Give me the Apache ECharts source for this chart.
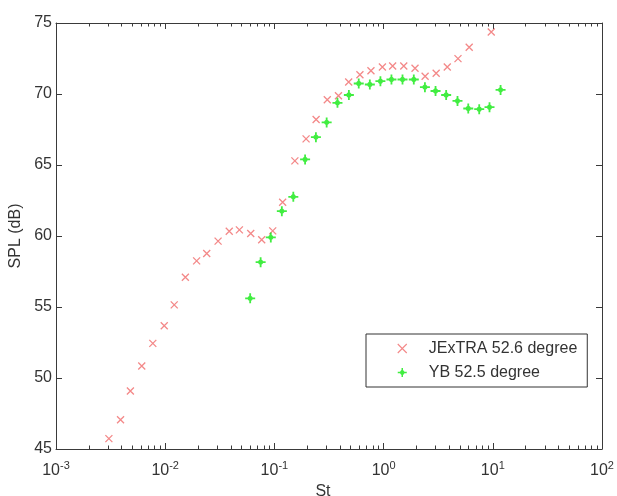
<!DOCTYPE html>
<html>
<head>
<meta charset="utf-8">
<script src="https://cdn.jsdelivr.net/npm/echarts@6/dist/echarts.min.js"></script>
<style>
  html, body { margin: 0; padding: 0; background: #fff; }
  #chart { width: 617px; height: 496px; }
</style>
</head>
<body>
<div id="chart"></div>
<script>
// JExTRA 52.6 degree
const redSt = [0.00305, 0.0039, 0.0048, 0.0061, 0.0077, 0.0098, 0.0121, 0.0153, 0.0194, 0.024,
  0.0305, 0.0386, 0.0478, 0.0607, 0.0765, 0.0965, 0.119, 0.154, 0.195, 0.241,
  0.305, 0.386, 0.479, 0.607, 0.766, 0.975, 1.21, 1.53, 1.94, 2.40,
  3.03, 3.83, 4.80, 6.08, 9.68];
const redSPL = [45.73, 47.06, 49.08, 50.84, 52.44, 53.68, 55.15, 57.10, 58.25, 58.77,
  59.64, 60.34, 60.43, 60.18, 59.73, 60.36, 62.38, 65.29, 66.84, 68.20,
  69.59, 69.88, 70.84, 71.35, 71.64, 71.90, 71.97, 71.97, 71.81, 71.25,
  71.46, 71.90, 72.49, 73.29, 74.37];

// YB 52.5 degree
const greenSt = [0.060, 0.0748, 0.0927, 0.117, 0.149, 0.191, 0.240, 0.301, 0.378, 0.481,
  0.592, 0.748, 0.935, 1.18, 1.49, 1.89, 2.39, 2.99, 3.74, 4.75,
  5.96, 7.51, 9.33, 11.78];
const greenSPL = [55.61, 58.16, 59.90, 61.75, 62.76, 65.39, 66.96, 68.00, 69.38, 69.93,
  70.74, 70.67, 70.90, 71.02, 71.02, 71.02, 70.48, 70.21, 69.93, 69.51,
  68.98, 68.93, 69.07, 70.29];

const seriesNames = ['JExTRA 52.6 degree', 'YB 52.5 degree'];

// axis ticks
const xDecades = [0.001, 0.01, 0.1, 1, 10, 100];
const xMinor = [];
for (let d = 0; d < xDecades.length - 1; d++) {
  for (let k = 2; k <= 9; k++) xMinor.push(+(xDecades[d] * k).toPrecision(3));
}

const FONT = 'Liberation Sans, Arial, sans-serif';
const AX = '#3a3a3a';
const RED = '#f06a6a';
const GREEN = '#12e812';
const CROSS = 'path://M0,0L10,10M10,0L0,10';
const STAR = 'path://M5,0L5,10M0,5L10,5M3.2,3.2L6.8,6.8M6.8,3.2L3.2,6.8';

function pairs(xs, ys) { return xs.map((x, i) => [x, ys[i]]); }

function logAxis(pos, withLabels, ticks, len, show) {
  return {
    type: 'log', logBase: 10, min: 0.001, max: 100, position: pos,
    axisLine: { show: show, onZero: false, lineStyle: { color: AX, width: 1 } },
    axisTick: { show: true, inside: true, length: len, customValues: ticks,
      lineStyle: { color: AX, width: 1 } },
    axisLabel: withLabels ? {
      show: true, margin: 11, customValues: xDecades,
      formatter: v => '{b|10}{s|' + Math.round(Math.log10(v)) + '}',
      rich: {
        b: { fontSize: 16, fontFamily: FONT, color: '#333', lineHeight: 20 },
        s: { fontSize: 11, fontFamily: FONT, color: '#333', padding: [0, 0, 11, 0] }
      }
    } : { show: false },
    splitLine: { show: false },
    minorTick: { show: false }
  };
}

function linAxis(pos, withLabels) {
  return {
    type: 'value', min: 45, max: 75, interval: 5, position: pos,
    axisLine: { show: true, onZero: false, lineStyle: { color: AX, width: 1 } },
    axisTick: { show: true, inside: true, length: 6, lineStyle: { color: AX, width: 1 } },
    axisLabel: withLabels ? { show: true, margin: 4, fontSize: 16, fontFamily: FONT, color: '#333' }
                          : { show: false },
    splitLine: { show: false }
  };
}

const chart = echarts.init(document.getElementById('chart'), null, { renderer: 'canvas' });

const xAxes = [
  Object.assign(logAxis('bottom', true, xDecades, 6, true), {
    name: 'St', nameLocation: 'middle', nameGap: 31,
    nameTextStyle: { fontSize: 16, fontFamily: FONT, color: '#333', padding: [0, 12, 0, 0] }
  }),
  logAxis('bottom', false, xMinor, 3.5, false),
  logAxis('top', false, xDecades, 6, true),
  logAxis('top', false, xMinor, 3.5, false)
];

const yAxes = [
  Object.assign(linAxis('left', true), {
    name: 'SPL (dB)', nameLocation: 'middle', nameGap: 32,
    nameTextStyle: { fontSize: 16, fontFamily: FONT, color: '#333' }
  }),
  linAxis('right', false)
];

chart.setOption({
  animation: false,
  backgroundColor: '#ffffff',
  grid: { left: 56, right: 15, top: 23, bottom: 47, containLabel: false, outerBoundsMode: 'none' },
  xAxis: xAxes,
  yAxis: yAxes,
  legend: {
    data: [
      { name: seriesNames[0], itemStyle: { borderWidth: 1.1 } },
      { name: seriesNames[1], itemStyle: { borderWidth: 1.5 } }
    ],
    orient: 'vertical',
    left: 366, top: 334,
    padding: [6, 10, 6, 31],
    itemWidth: 9, itemHeight: 9, itemGap: 7,
    borderColor: '#333', borderWidth: 1, backgroundColor: '#fff',
    textStyle: { fontSize: 16, fontFamily: FONT, color: '#333', lineHeight: 17, padding: [0, 0, 0, 17] }
  },
  series: [
    {
      name: seriesNames[0], type: 'scatter', xAxisIndex: 0, yAxisIndex: 0,
      data: pairs(redSt, redSPL),
      symbol: CROSS, symbolSize: 7,
      itemStyle: { color: 'rgba(0,0,0,0)', borderColor: RED, borderWidth: 1.3 }
    },
    {
      name: seriesNames[1], type: 'scatter', xAxisIndex: 0, yAxisIndex: 0,
      data: pairs(greenSt, greenSPL),
      symbol: STAR, symbolSize: 10,
      itemStyle: { color: 'rgba(0,0,0,0)', borderColor: GREEN, borderWidth: 1.8 }
    }
  ]
});
</script>
</body>
</html>
